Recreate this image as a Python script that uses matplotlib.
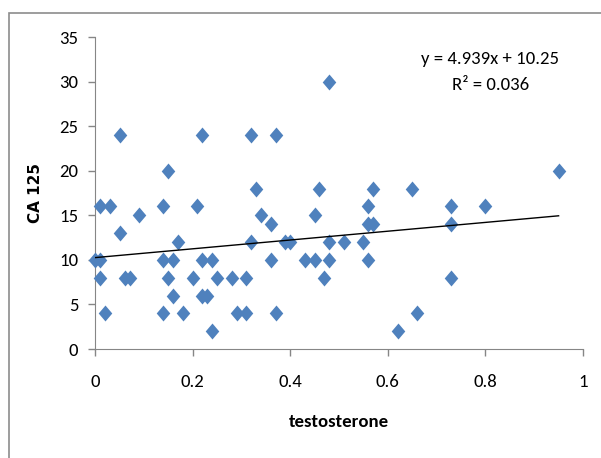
import matplotlib.pyplot as plt
from matplotlib.path import Path
from matplotlib.patches import Rectangle

# Data
testosterone = [0.00, 0.011, 0.011, 0.011, 0.031, 0.021, 0.051, 0.051, 0.061, 0.072,
                0.091, 0.14, 0.14, 0.14, 0.15, 0.15, 0.16, 0.16, 0.17, 0.18,
                0.20, 0.21, 0.22, 0.22, 0.22, 0.23, 0.24, 0.24, 0.25, 0.28,
                0.29, 0.31, 0.31, 0.32, 0.32, 0.33, 0.34, 0.36, 0.36, 0.37,
                0.37, 0.39, 0.40, 0.43, 0.45, 0.45, 0.46, 0.47, 0.48, 0.48,
                0.48, 0.51, 0.55, 0.56, 0.56, 0.56, 0.57, 0.57, 0.62, 0.65,
                0.66, 0.73, 0.73, 0.73, 0.80, 0.95]
ca125 = [10, 10, 8, 16, 16, 4, 24, 13, 8, 8,
         15, 16, 10, 4, 20, 8, 10, 6, 12, 4,
         8, 16, 24, 10, 6, 6, 10, 2, 8, 8,
         4, 8, 4, 24, 12, 18, 15, 14, 10, 24,
         4, 12, 12, 10, 10, 15, 18, 8, 30, 12,
         10, 12, 12, 16, 14, 10, 14, 18, 2, 18,
         4, 16, 14, 8, 16, 20]

slope, intercept = 4.939, 10.25
x_ticks = [0, 0.2, 0.4, 0.6, 0.8, 1]
x_labels = ["0", "0.2", "0.4", "0.6", "0.8", "1"]
y_ticks = [0, 5, 10, 15, 20, 25, 30, 35]

font = ["Carlito", "DejaVu Sans"]
blue = "#4F81BD"
grey = "#868686"

fig = plt.figure(figsize=(6.01, 4.58), dpi=100)
# chart area border (only left/top visible in the reference)
fig.patches.append(Rectangle((9 / 601, -0.1), 1.0, 1 - 13 / 458 + 0.1,
                             transform=fig.transFigure, fill=False,
                             edgecolor="#8c8c8c", linewidth=1.2))

ax = fig.add_axes([95 / 601, 1 - 349 / 458, (583 - 95) / 601, (349 - 37) / 458])

diamond = Path([(0, 1), (0.85, 0), (0, -1), (-0.85, 0), (0, 1)],
               [Path.MOVETO, Path.LINETO, Path.LINETO, Path.LINETO, Path.CLOSEPOLY])
ax.scatter(testosterone, ca125, marker=diamond, s=11.5 ** 2, color=blue,
           linewidths=0, zorder=3, clip_on=False)

# linear trend line
x0, x1 = min(testosterone), max(testosterone)
ax.plot([x0, x1], [slope * x0 + intercept, slope * x1 + intercept],
        color="black", linewidth=1, zorder=4)

ax.set_xlim(0, 1)
ax.set_ylim(0, 35)
ax.set_xticks(x_ticks)
ax.set_xticklabels(x_labels)
ax.set_yticks(y_ticks)
for s in ["top", "right"]:
    ax.spines[s].set_visible(False)
for s in ["left", "bottom"]:
    ax.spines[s].set_color(grey)
ax.tick_params(direction="out", length=5, color=grey, width=1)
ax.tick_params(axis="x", pad=13)
ax.tick_params(axis="y", pad=7)
for lbl in ax.get_xticklabels() + ax.get_yticklabels():
    lbl.set_family(font)
    lbl.set_fontsize(13.5)

ax.set_ylabel("CA 125", fontsize=11, fontweight="bold", family="DejaVu Sans", labelpad=12)
ax.set_xlabel("testosterone", fontsize=13.5, fontweight="bold", family=font, labelpad=17)

ax.text(0.81, 0.93, "y = 4.939x + 10.25", transform=ax.transAxes,
        ha="center", va="center", fontsize=13.5, family=font)
ax.text(0.81, 0.845, "R² = 0.036", transform=ax.transAxes,
        ha="center", va="center", fontsize=13.5, family=font)

fig.savefig("out.png", dpi=100)
